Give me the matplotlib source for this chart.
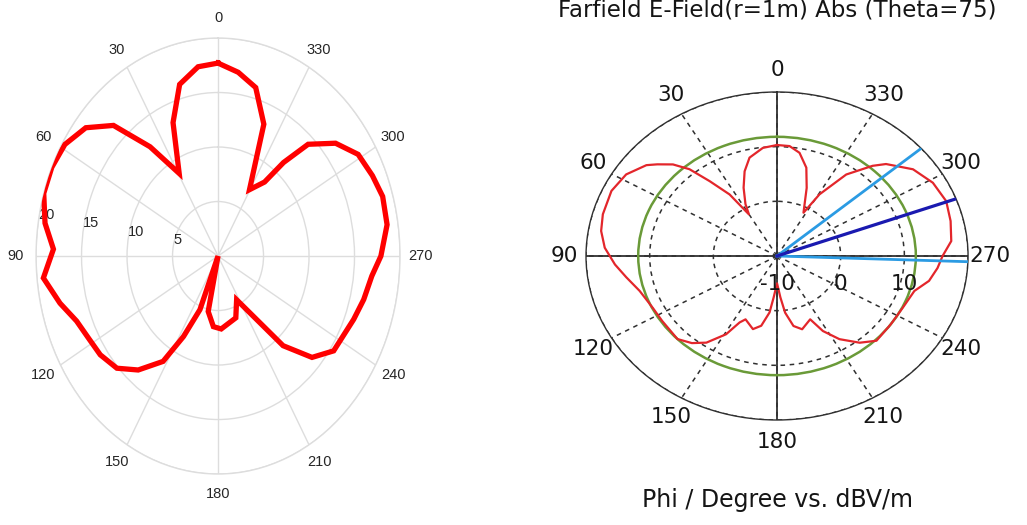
import numpy as np
import matplotlib
matplotlib.use("Agg")
import matplotlib.pyplot as plt
from matplotlib.transforms import ScaledTranslation

# ---------------- data ----------------
# Left chart: measured pattern (angle in degrees, radius)
left_theta_deg = [0, 7.2, 15, 22, 29.4, 36.7, 43.8, 51, 58.7, 66, 73.3, 81, 88, 96,
                  104, 111, 118, 125, 132.8, 140, 148, 152.8, 158, 163, 168, 175.5,
                  183, 199, 207, 221, 228, 235.6, 248.7, 256, 263.8, 270, 278.8,
                  286.8, 293.5, 301.2, 308.7, 316, 320, 323, 330.4, 337.4, 345, 352.5]
left_r = [17.7, 17.5, 16.3, 13.2, 8.7, 12.5, 16.6, 18.7, 19.7, 20.0, 20.0, 19.25, 18.1, 19.3,
          17.9, 16.65, 16.1, 15.8, 15.15, 13.65, 11.4, 8.3, 5.3, 0.0, 5.2, 6.5,
          6.7, 6.0, 4.5, 10.9, 13.9, 15.4, 16.0, 16.5, 17.0, 17.9, 18.8,
          18.9, 18.5, 18.0, 16.55, 14.25, 11.2, 8.5, 7.0, 13.1, 16.0, 17.0]
left_rticks = [5, 10, 15, 20]
theta_tick_deg = list(range(0, 360, 30))

# Right chart: CST farfield cut (Phi in degrees, dBV/m)
right_phi_deg = [0, 6.4, 13.5, 18.2, 22.8, 27.6, 30.1, 33.5, 37.7, 40.9, 44.3, 48.3, 51,
                 57.8, 65.4, 74.4, 80.6, 86.8, 93.5, 99.3, 106.5, 115.9, 123.4, 134.2,
                 140, 145, 150.8, 154.2, 156.9, 164.2, 169, 173.5, 176, 180, 184, 187,
                 191.4, 196.4, 204.2, 207.7, 212.8, 219.3, 225.2, 235, 244.4, 253.5,
                 259.2, 265, 270, 275.7, 283.2, 290.7, 298.7, 306.6, 314.5, 317.7,
                 323.9, 329.4, 332.3, 339.5, 344.1, 349.4, 354.4]
right_db = [10.3, 9.9, 8.5, 6.3, 3.55, 0.7, -1.2, 3.5, 7.3, 11.0, 13.4, 15.2, 16.4,
            18.0, 18.6, 18.4, 18.0, 17.1, 15.5, 14.0, 12.5, 11.7, 11.6, 11.8,
            10.8, 9.35, 6.4, 3.5, 2.6, 3.9, 3.0, 0.4, -2.4, -5.0, -2.4, 0.45,
            3.06, 3.97, 2.7, 5.5, 8.1, 10.5, 12.0, 11.8, 11.9, 12.5,
            14.3, 15.3, 16.0, 17.5, 18.0, 18.4, 17.9, 16.6, 14.0, 12.3,
            8.45, 3.1, -1.06, 3.3, 6.8, 9.2, 10.2]
right_rlim = (-10, 20)
right_rticks = [-10, 0, 10]
green_level_db = 11.8          # constant reference circle
main_lobe_deg = 290.4          # main lobe direction (dark blue)
beam_edges_deg = [311.0, 268.0]  # angular width limits (light blue)

title_text = "Farfield E-Field(r=1m) Abs (Theta=75)"
xlabel_text = "Phi / Degree vs. dBV/m"

# ---------------- figure ----------------
fig = plt.figure(figsize=(10.27, 5.25), dpi=100)
fig.patch.set_facecolor("white")

# ----- left polar chart -----
axL = fig.add_axes([0.0351, 0.0971, 0.3544, 0.8305], projection="polar")
axL.set_aspect("auto")
axL.set_theta_zero_location("N")
axL.set_theta_direction(1)
th = np.deg2rad(np.append(left_theta_deg, left_theta_deg[0]))
rr = np.append(left_r, left_r[0])
axL.plot(th, rr, color="#ff0000", lw=3.8, zorder=5, solid_joinstyle="miter")
axL.set_rlim(0, 20)
axL.set_rticks(left_rticks)
axL.set_yticklabels([str(v) for v in left_rticks], fontsize=10.5,
                    family="Liberation Sans", color="#262626")
axL.set_rlabel_position(81)
axL.set_thetagrids(theta_tick_deg, [str(v) for v in theta_tick_deg],
                   fontsize=10.5, family="Liberation Sans", color="#262626")
axL.tick_params(axis="x", pad=4)
axL.grid(True, color="#dddddd", lw=1.0)
axL.spines["polar"].set_color("#dddddd")
axL.spines["polar"].set_linewidth(1.0)
axL.set_facecolor("white")

# ----- right polar chart (CST style) -----
axR = fig.add_axes([0.5706, 0.2, 0.372, 0.6248], projection="polar")
axR.set_aspect("auto")
axR.set_theta_zero_location("N")
axR.set_theta_direction(1)
axR.set_rlim(*right_rlim)
axR.set_rticks([0, 10, 20])
axR.set_yticklabels([])
axR.set_thetagrids(theta_tick_deg, [str(v) for v in theta_tick_deg],
                   fontsize=15.5, family="DejaVu Sans", color="#151515")
axR.tick_params(axis="x", pad=5)
axR.grid(True, color="#303030", lw=1.1, ls=(0, (3, 3)))
axR.spines["polar"].set_color("#303030")
axR.spines["polar"].set_linewidth(1.0)
for a in (0, 90, 180, 270):
    axR.axvline(np.deg2rad(a), color="#303030", lw=1.3, zorder=2)

axR.axhline(green_level_db, color="#6a9a38", lw=1.8, zorder=3)
thR = np.deg2rad(np.append(right_phi_deg, right_phi_deg[0]))
dbR = np.append(right_db, right_db[0])
axR.plot(thR, dbR, color="#e3262b", lw=1.6, zorder=4)
for b in beam_edges_deg:
    axR.axvline(np.deg2rad(b), color="#2b9be3", lw=2.0, zorder=6)
axR.axvline(np.deg2rad(main_lobe_deg), color="#1a1ab0", lw=2.3, zorder=6)

off = ScaledTranslation(0, -0.28, fig.dpi_scale_trans)
for v in right_rticks:
    axR.text(np.deg2rad(270), v, str(v), transform=axR.transData + off,
             ha="center", va="center", fontsize=15.5, family="DejaVu Sans",
             color="#151515", zorder=7)

fig.text(777 / 1027, 1 - 10 / 525, title_text, ha="center", va="center",
         fontsize=16.5, family="DejaVu Sans", color="#151515")
fig.text(777.5 / 1027, 1 - 500 / 525, xlabel_text, ha="center", va="center",
         fontsize=17, family="DejaVu Sans", color="#151515")

fig.savefig("out.png", dpi=100)
